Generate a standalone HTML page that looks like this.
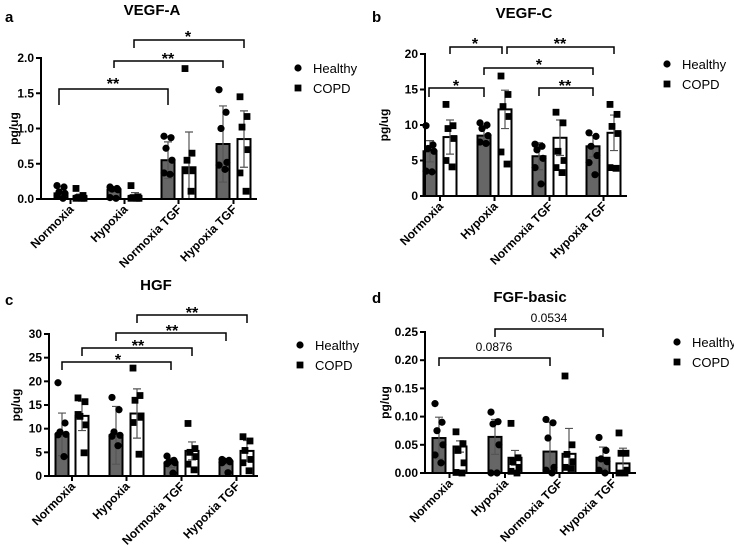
<!DOCTYPE html>
<html><head><meta charset="utf-8"><style>
body{margin:0;background:#fff;}
svg{display:block;font-family:"Liberation Sans",Arial,sans-serif;}
</style></head><body>
<svg id="fig" width="734" height="545" viewBox="0 0 734 545"></svg>
<script>
const categories=["Normoxia","Hypoxia","Normoxia TGF","Hypoxia TGF"];
// Panel a VEGF-A
const aHealthyMean=[0.08,0.13,0.55,0.78];
const aHealthySD=[0.05,0.03,0.26,0.54];
const aCopdMean=[0.03,0.03,0.45,0.85];
const aCopdSD=[0.04,0.06,0.50,0.40];
const aHealthyPts=[[0.19,0.17,0.1,0.08,0.05,0.01],[0.17,0.15,0.14,0.13,0.02,0.01],[0.89,0.87,0.72,0.55,0.37,0.35],[1.55,1.23,1.0,0.52,0.48,0.42]];
const aCopdPts=[[0.15,0.05,0.02,0.01,0.01,0.01],[0.19,0.03,0.02,0.01,0.01,0.01],[1.85,0.65,0.55,0.4,0.4,0.11],[1.45,1.17,1.02,0.7,0.37,0.11]];
const aTicks=["0.0","0.5","1.0","1.5","2.0"];
// Panel b VEGF-C
const bHealthyMean=[6.3,8.5,5.6,7.0];
const bHealthySD=[1.5,1.0,1.9,1.5];
const bCopdMean=[8.3,12.2,8.2,8.9];
const bCopdSD=[2.4,2.7,2.5,2.5];
const bHealthyPts=[[9.9,7.2,6.7,6.3,3.5,3.4],[10.3,10.0,9.5,8.5,7.6,7.4],[7.3,7.0,6.5,5.3,4.0,1.7],[8.9,8.4,7.0,5.7,4.7,3.0]];
const bCopdPts=[[12.9,9.9,9.5,8.1,5.0,4.1],[16.9,14.3,12.6,11.2,6.2,4.5],[11.8,10.3,6.3,5.0,4.0,3.3],[12.9,11.5,9.8,8.8,4.0,3.9]];
const bTicks=["0","5","10","15","20"];
// Panel c HGF
const cHealthyMean=[8.8,8.6,2.8,3.0];
const cHealthySD=[4.5,6.1,1.0,0.5];
const cCopdMean=[12.7,13.2,5.3,5.3];
const cCopdSD=[3.1,5.2,1.9,2.2];
const cHealthyPts=[[19.7,11.2,9.3,8.8,8.7,4.1],[16.6,14.0,9.3,8.6,8.4,6.4],[4.2,3.3,3.0,2.8,2.6,0.6],[3.5,3.3,3.2,3.0,2.8,0.7]];
const cCopdPts=[[16.5,15.7,12.6,10.8,13.0,4.9],[22.8,17.0,16.0,12.4,11.3,4.6],[11.1,5.8,5.0,4.1,2.5,1.3],[8.3,7.4,5.4,3.5,2.8,1.1]];
const cTicks=["0","5","10","15","20","25","30"];
// Panel d FGF-basic
const dHealthyMean=[0.062,0.064,0.038,0.027];
const dHealthySD=[0.037,0.031,0.052,0.019];
const dCopdMean=[0.047,0.027,0.034,0.017];
const dCopdSD=[0.01,0.013,0.045,0.027];
const dHealthyPts=[[0.123,0.09,0.075,0.05,0.032,0.018],[0.108,0.091,0.087,0.05,0.0,0.0],[0.095,0.089,0.062,0.01,0.005,0.0],[0.063,0.04,0.025,0.02,0.005,0.0]];
const dCopdPts=[[0.073,0.052,0.04,0.018,0.001,0.0],[0.088,0.027,0.02,0.01,0.003,0.0],[0.172,0.05,0.033,0.02,0.01,0.008],[0.071,0.035,0.035,0.005,0.0,0.0]];
const dTicks=["0.00","0.05","0.10","0.15","0.20","0.25"];

const NS="http://www.w3.org/2000/svg";
const svg=document.getElementById('fig');
function mk(tag,attrs,parent,text){const e=document.createElementNS(NS,tag);for(const k in attrs)e.setAttribute(k,attrs[k]);if(text!==undefined)e.textContent=text;(parent||svg).appendChild(e);return e;}
const jit=[-4,3,-2,4,-4,2];

const panels=[
 {id:'a',letter:'a',lx:5,ly:22,title:'VEGF-A',tx:152,ty:15,ax:41,y0:199,yTop:58,xEnd:257,max:2,ticks:aTicks,
  centers:[[61,80],[114,135],[168,189],[223,244]],hm:aHealthyMean,hs:aHealthySD,cm:aCopdMean,cs:aCopdSD,hp:aHealthyPts,cp:aCopdPts,
  ylx:18,leg:[298,68],
  br:[[59,168,89,105,105,'**',113,80],[114,223,61,68,68,'**',168,55],[134,244,40,48,48,'*',188,33]]},
 {id:'b',letter:'b',lx:372,ly:22,title:'VEGF-C',tx:524,ty:18,ax:425,y0:196,yTop:54,xEnd:627,max:20,ticks:bTicks,
  centers:[[430,450],[484,505],[539,560],[593,614]],hm:bHealthyMean,hs:bHealthySD,cm:bCopdMean,cs:bCopdSD,hp:bHealthyPts,cp:bCopdPts,
  ylx:388,leg:[667,64],
  br:[[429,484,88,97,97,'*',456,82],[450,502,47,54,54,'*',475,40],[507,614,47,54,54,'**',560,40],[484,593,68,75,75,'*',539,61],[539,593,88,96,96,'**',565,82]]},
 {id:'c',letter:'c',lx:5,ly:305,title:'HGF',tx:156,ty:290,ax:49,y0:476,yTop:334,xEnd:258,max:30,ticks:cTicks,
  centers:[[62,82],[116,137],[171,192],[226,247]],hm:cHealthyMean,hs:cHealthySD,cm:cCopdMean,cs:cCopdSD,hp:cHealthyPts,cp:cCopdPts,
  ylx:20,leg:[300,345],
  br:[[62,171,362,370,370,'*',118,356],[82,192,348,356,356,'**',138,342],[116,226,333,341,341,'**',172,327],[137,247,315,323,323,'**',192,309]]},
 {id:'d',letter:'d',lx:372,ly:303,title:'FGF-basic',tx:530,ty:302,ax:425,y0:473,yTop:332,xEnd:636,max:0.25,ticks:dTicks,
  centers:[[439,460],[495,515],[550,569],[603,623]],hm:dHealthyMean,hs:dHealthySD,cm:dCopdMean,cs:dCopdSD,hp:dHealthyPts,cp:dCopdPts,
  ylx:389,leg:[677,342],
  br:[[439,550,358,366,366,'0.0876',494,351,true],[495,603,329,337,337,'0.0534',549,322,true]]}
];

panels.forEach(p=>{
 const g=mk('g',{},svg);
 
 
 const ys=v=>p.y0-(v/p.max)*(p.y0-p.yTop);
 const t=mk('text',{x:p.lx,y:p.ly,'font-size':15,'font-weight':'bold'},g,p.letter);
 
 const ti=mk('text',{x:p.tx,y:p.ty,'font-size':15,'font-weight':'bold','text-anchor':'middle'},g,p.title);
 
 const yl=mk('text',{x:0,y:0,'font-size':12,'font-weight':'bold','text-anchor':'middle',transform:`translate(${p.ylx},${(p.y0+p.yTop)/2}) rotate(-90)`},g,'pg/ug');
 
 const bw=13;
 for(let i=0;i<categories.length;i++){
  [[p.hm,p.hs,p.hp,'#666','healthy'],[p.cm,p.cs,p.cp,'#fff','copd']].forEach((s,k)=>{
   const cx=p.centers[i][k];const m=s[0][i],sd=s[1][i];
   const r=mk('rect',{x:cx-bw/2,y:ys(m),width:bw,height:p.y0-ys(m),fill:s[3],stroke:'#000','stroke-width':2},g);
   
   const lo=Math.max(0,m-sd),hi=m+sd;
   const eb=mk('path',{d:`M${cx},${ys(lo)}V${ys(hi)}M${cx-4},${ys(hi)}H${cx+4}M${cx-4},${ys(lo)}H${cx+4}`,stroke:'#555','stroke-width':1.2,fill:'none'},g);
   
   s[2][i].forEach((v,j)=>{
    let pt;
    if(k===0) pt=mk('circle',{cx:cx+jit[j],cy:ys(v),r:3.6,fill:'#000'},g);
    else pt=mk('rect',{x:cx+jit[j]-3.4,y:ys(v)-3.4,width:6.8,height:6.8,fill:'#000'},g);
    
   });
  });
 }
 const axes=mk('path',{d:`M${p.ax},${p.yTop-1}V${p.y0}H${p.xEnd}`,stroke:'#000','stroke-width':2,fill:'none'},g);
 
 p.ticks.forEach((lab,i)=>{
  const v=i*p.max/(p.ticks.length-1);const y=ys(v);
  mk('line',{x1:p.ax-5,x2:p.ax,y1:y,y2:y,stroke:'#000','stroke-width':2},g);
  const tl=mk('text',{x:p.ax-7,y:y+4,'font-size':12,'font-weight':'bold','text-anchor':'end'},g,lab);
  
 });
 categories.forEach((c,i)=>{
  const cx=(p.centers[i][0]+p.centers[i][1])/2;
  mk('line',{x1:cx,x2:cx,y1:p.y0,y2:p.y0+5,stroke:'#000','stroke-width':2},g);
  const cl=mk('text',{x:0,y:0,'font-size':12,'font-weight':'bold','text-anchor':'end',transform:`translate(${cx+4},${p.y0+11}) rotate(-45)`},g,c);
  
 });
 const lg=mk('g',{},g);
 
 mk('circle',{cx:p.leg[0],cy:p.leg[1],r:3.6,fill:'#000'},lg);
 mk('text',{x:p.leg[0]+15,y:p.leg[1]+5,'font-size':13},lg,'Healthy');
 mk('rect',{x:p.leg[0]-3.4,y:p.leg[1]+20-3.4,width:6.8,height:6.8,fill:'#000'},lg);
 mk('text',{x:p.leg[0]+15,y:p.leg[1]+25,'font-size':13},lg,'COPD');
 p.br.forEach(b=>{
  const bp=mk('path',{d:`M${b[0]},${b[3]}V${b[2]}H${b[1]}V${b[4]}`,stroke:'#000','stroke-width':1.5,fill:'none'},g);
  
  const st=mk('text',{x:b[6],y:b[8]?b[7]:b[7]+9,'font-size':b[8]?12:16,'font-weight':b[8]?'normal':'bold','text-anchor':'middle'},g,b[5]);
  
 });
});
</script>
</body></html>
